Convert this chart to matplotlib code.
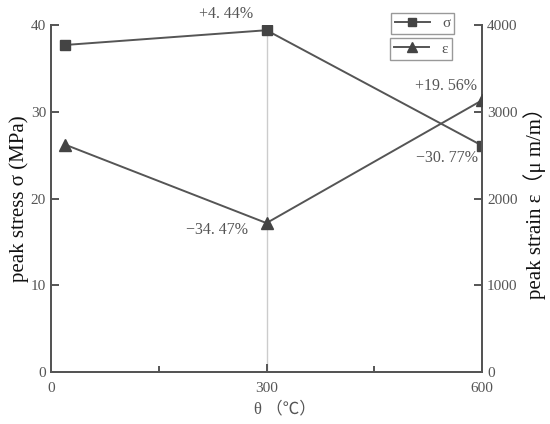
import matplotlib

matplotlib.use("Agg")

import matplotlib.pyplot as plt
from matplotlib.ticker import FixedLocator

temperature = [20, 300, 600]
stress = [37.7, 39.4, 26.1]
strain = [2620, 1717, 3132]
stress_labels = ["", "+4. 44%", "\u221230. 77%"]
strain_labels = ["", "\u221234. 47%", "+19. 56%"]

LINE = "#555555"
TEXT = "#555555"
FONT = ["Liberation Serif", "Noto Sans CJK SC", "DejaVu Sans"]

plt.rcParams["font.family"] = FONT
plt.rcParams["axes.unicode_minus"] = False

fig = plt.figure(figsize=(5.5, 4.24), dpi=100)
ax = fig.add_axes([0.0927, 0.1226, 0.7837, 0.8184])
ax2 = ax.twinx()

ax.axvline(300, ymin=0, ymax=stress[1] / 40, color="#cccccc", lw=1.0, zorder=1)

(l1,) = ax.plot(temperature, stress, color=LINE, lw=1.4, marker="s", ms=7,
                mfc="#444444", mec="#444444", zorder=3)
(l2,) = ax2.plot(temperature, strain, color=LINE, lw=1.4, marker="^", ms=8,
                 mfc="#444444", mec="#444444", zorder=3)

ax.set_xlim(0, 600)
ax.set_ylim(0, 40)
ax2.set_ylim(0, 4000)
ax.set_xticks([0, 300, 600])
ax.xaxis.set_minor_locator(FixedLocator([150, 450]))
ax.set_yticks([0, 10, 20, 30, 40])
ax2.set_yticks([0, 1000, 2000, 3000, 4000])

for a in (ax, ax2):
    a.spines["top"].set_visible(False)
    for s in a.spines.values():
        s.set_color("#555555")
        s.set_linewidth(1.4)
    a.tick_params(direction="in", length=6, width=1.4, color="#555555",
                  labelcolor=TEXT, labelsize=11)
    a.tick_params(which="minor", direction="in", length=4, width=1.4, color="#555555")
ax.tick_params(axis="x", pad=7)

ax.set_xlabel("θ （℃）", fontsize=12, color=TEXT, labelpad=4)
ax.xaxis.set_label_coords(0.543, -0.085)
ax.set_ylabel("peak stress σ (MPa)", fontsize=15, color="#111111", labelpad=1)
ax2.set_ylabel("peak strain ε（μ m/m）", fontsize=15, color="#111111", labelpad=4)

ax.annotate(stress_labels[1], (temperature[1], stress[1]), xytext=(-29, 12),
            textcoords="offset points", ha="center", va="center", fontsize=11.5, color=TEXT)
ax.annotate(stress_labels[2], (temperature[2], stress[2]), xytext=(-25, -9),
            textcoords="offset points", ha="center", va="center", fontsize=11.5, color=TEXT)
ax2.annotate(strain_labels[1], (temperature[1], strain[1]), xytext=(-36, -5),
             textcoords="offset points", ha="center", va="center", fontsize=11.5, color=TEXT)
ax2.annotate(strain_labels[2], (temperature[2], strain[2]), xytext=(-26, 10),
             textcoords="offset points", ha="center", va="center", fontsize=11.5, color=TEXT)

leg_kw = dict(fontsize=11, handlelength=2.3, handletextpad=0.8, borderpad=0.25,
              borderaxespad=0, markerscale=0.9, fancybox=False, edgecolor="#999999",
              framealpha=1, labelcolor=TEXT)
leg1 = ax2.legend([l1], ["σ"], loc="upper left", bbox_to_anchor=(0.789, 1.035), **leg_kw)
ax2.add_artist(leg1)
ax2.legend([l2], ["ε"], loc="upper left", bbox_to_anchor=(0.787, 0.962), **leg_kw)

fig.savefig("out.png", dpi=100, facecolor="white")
